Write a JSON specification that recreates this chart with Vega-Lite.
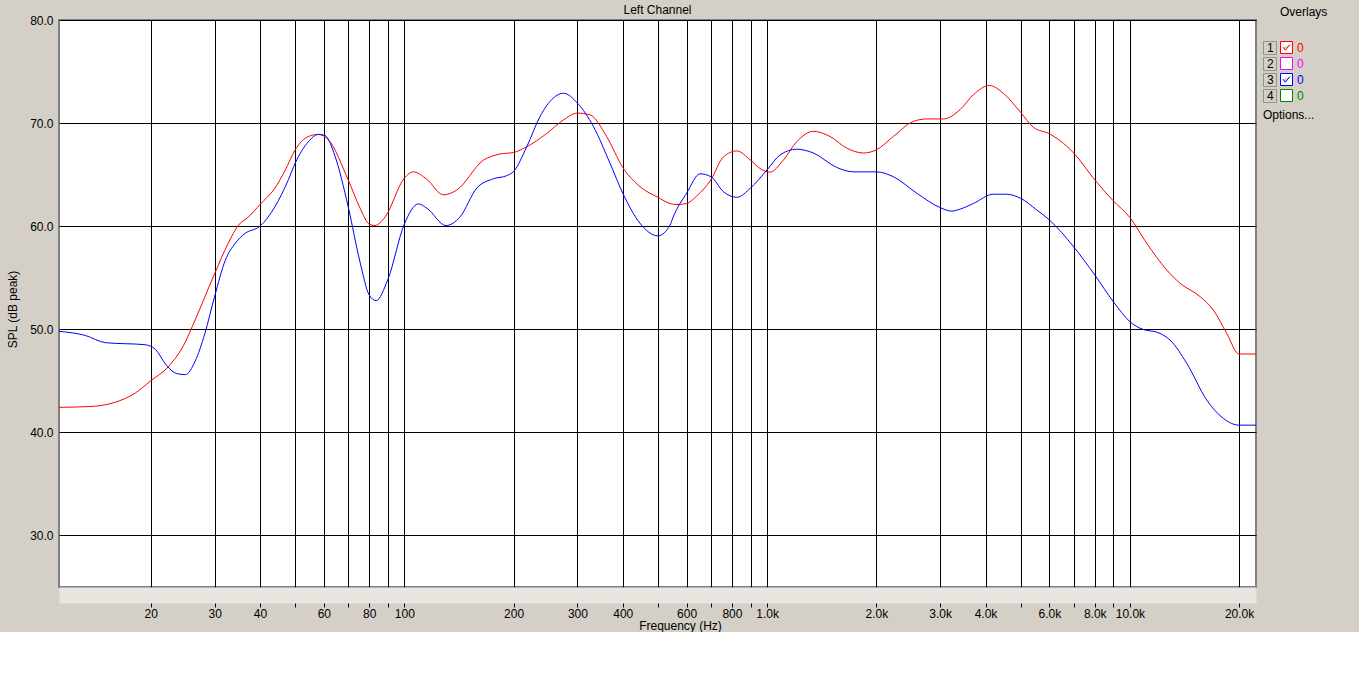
{
  "$schema": "https://vega.github.io/schema/vega-lite/v6.json",
  "width": 1197,
  "height": 567,
  "autosize": {"type": "none"},
  "padding": {"left": 59, "top": 20, "right": 103, "bottom": 45},
  "background": "#D4D0C8",
  "config": {
    "view": {"fill": "white", "stroke": "#808080", "strokeWidth": 2},
    "font": "Liberation Sans",
    "axis": {
      "labelFont": "Liberation Sans", "labelFontSize": 12, "labelColor": "black",
      "titleFont": "Liberation Sans", "titleFontSize": 12, "titleFontWeight": "normal", "titleColor": "black",
      "gridColor": "black", "gridOpacity": 1, "gridWidth": 1, "tickColor": "black"
    },
    "legend": {
      "labelFont": "Liberation Sans", "labelFontSize": 12,
      "titleFont": "Liberation Sans", "titleFontSize": 12, "titleFontWeight": "normal", "titleColor": "black"
    }
  },
  "title": {
    "text": "Left Channel", "anchor": "middle", "fontSize": 12, "fontWeight": "normal",
    "font": "Liberation Sans", "color": "black", "offset": -10
  },
  "data": {
    "values": [
      {"set": "1", "f": 11.17, "db": 42.43}, {"set": "1", "f": 13.5, "db": 42.5}, {"set": "1", "f": 15.9, "db": 42.9},
      {"set": "1", "f": 18.1, "db": 43.8}, {"set": "1", "f": 20, "db": 45.0}, {"set": "1", "f": 22.4, "db": 46.4},
      {"set": "1", "f": 24.6, "db": 48.4}, {"set": "1", "f": 26.5, "db": 50.9}, {"set": "1", "f": 30, "db": 55.4},
      {"set": "1", "f": 32.7, "db": 58.35}, {"set": "1", "f": 34.9, "db": 60.1}, {"set": "1", "f": 37.2, "db": 60.9},
      {"set": "1", "f": 40, "db": 62.1}, {"set": "1", "f": 44, "db": 63.7}, {"set": "1", "f": 46.9, "db": 65.4},
      {"set": "1", "f": 50, "db": 67.4}, {"set": "1", "f": 54.4, "db": 68.7}, {"set": "1", "f": 57.9, "db": 68.9},
      {"set": "1", "f": 61.7, "db": 68.4}, {"set": "1", "f": 70, "db": 64.5}, {"set": "1", "f": 75.5, "db": 61.75},
      {"set": "1", "f": 80, "db": 60.2}, {"set": "1", "f": 83, "db": 60.06}, {"set": "1", "f": 88.5, "db": 60.9},
      {"set": "1", "f": 100, "db": 64.66}, {"set": "1", "f": 105.9, "db": 65.27}, {"set": "1", "f": 115.3, "db": 64.56},
      {"set": "1", "f": 128.1, "db": 63.04}, {"set": "1", "f": 139.4, "db": 63.5}, {"set": "1", "f": 165.1, "db": 66.4},
      {"set": "1", "f": 183.5, "db": 67.0}, {"set": "1", "f": 200, "db": 67.15}, {"set": "1", "f": 217.5, "db": 67.7},
      {"set": "1", "f": 247, "db": 69.0}, {"set": "1", "f": 274.4, "db": 70.3}, {"set": "1", "f": 300, "db": 70.97},
      {"set": "1", "f": 325, "db": 70.8}, {"set": "1", "f": 361, "db": 68.7}, {"set": "1", "f": 400, "db": 65.7},
      {"set": "1", "f": 446, "db": 63.84}, {"set": "1", "f": 500, "db": 62.8}, {"set": "1", "f": 540, "db": 62.2},
      {"set": "1", "f": 563, "db": 62.1}, {"set": "1", "f": 600, "db": 62.2}, {"set": "1", "f": 640, "db": 62.94},
      {"set": "1", "f": 700, "db": 64.5}, {"set": "1", "f": 757, "db": 66.7}, {"set": "1", "f": 825, "db": 67.3},
      {"set": "1", "f": 900, "db": 66.4}, {"set": "1", "f": 956, "db": 65.6}, {"set": "1", "f": 1019, "db": 65.24},
      {"set": "1", "f": 1108, "db": 66.4}, {"set": "1", "f": 1207, "db": 68.2}, {"set": "1", "f": 1341, "db": 69.2},
      {"set": "1", "f": 1491, "db": 68.7}, {"set": "1", "f": 1658, "db": 67.57}, {"set": "1", "f": 1842, "db": 67.1},
      {"set": "1", "f": 2000, "db": 67.4}, {"set": "1", "f": 2227, "db": 68.7}, {"set": "1", "f": 2529, "db": 70.16},
      {"set": "1", "f": 2754, "db": 70.4}, {"set": "1", "f": 3060, "db": 70.4}, {"set": "1", "f": 3402, "db": 71.3},
      {"set": "1", "f": 3702, "db": 72.75}, {"set": "1", "f": 4099, "db": 73.65}, {"set": "1", "f": 4477, "db": 72.9},
      {"set": "1", "f": 5000, "db": 71.03}, {"set": "1", "f": 5416, "db": 69.6}, {"set": "1", "f": 6000, "db": 68.96},
      {"set": "1", "f": 6417, "db": 68.3}, {"set": "1", "f": 7000, "db": 67.1}, {"set": "1", "f": 8000, "db": 64.5},
      {"set": "1", "f": 9000, "db": 62.46}, {"set": "1", "f": 10000, "db": 60.84}, {"set": "1", "f": 11124, "db": 58.35},
      {"set": "1", "f": 12628, "db": 55.76}, {"set": "1", "f": 13744, "db": 54.47}, {"set": "1", "f": 15606, "db": 53.17},
      {"set": "1", "f": 16982, "db": 51.87}, {"set": "1", "f": 18490, "db": 49.6}, {"set": "1", "f": 20000, "db": 47.6},
      {"set": "1", "f": 22265, "db": 47.6},
      {"set": "3", "f": 11.17, "db": 49.8}, {"set": "3", "f": 13.2, "db": 49.4}, {"set": "3", "f": 15.0, "db": 48.7},
      {"set": "3", "f": 19.3, "db": 48.5}, {"set": "3", "f": 20.6, "db": 48.05}, {"set": "3", "f": 22.1, "db": 46.5},
      {"set": "3", "f": 23.6, "db": 45.7}, {"set": "3", "f": 24.9, "db": 45.6}, {"set": "3", "f": 26.5, "db": 46.9},
      {"set": "3", "f": 28.2, "db": 49.6}, {"set": "3", "f": 30, "db": 53.2}, {"set": "3", "f": 32.1, "db": 56.7},
      {"set": "3", "f": 34.2, "db": 58.35}, {"set": "3", "f": 36.4, "db": 59.3}, {"set": "3", "f": 40, "db": 60.0},
      {"set": "3", "f": 44, "db": 61.9}, {"set": "3", "f": 47.9, "db": 64.5}, {"set": "3", "f": 50, "db": 66.1},
      {"set": "3", "f": 54.4, "db": 68.2}, {"set": "3", "f": 57.9, "db": 68.9}, {"set": "3", "f": 60.4, "db": 68.8},
      {"set": "3", "f": 64.4, "db": 66.8}, {"set": "3", "f": 70, "db": 61.9}, {"set": "3", "f": 75.5, "db": 56.5},
      {"set": "3", "f": 80, "db": 53.33}, {"set": "3", "f": 83.6, "db": 52.78}, {"set": "3", "f": 90, "db": 54.8},
      {"set": "3", "f": 100, "db": 60.2}, {"set": "3", "f": 109.3, "db": 62.16}, {"set": "3", "f": 115.3, "db": 61.75},
      {"set": "3", "f": 130.3, "db": 60.06}, {"set": "3", "f": 142.4, "db": 60.9}, {"set": "3", "f": 158.4, "db": 63.7},
      {"set": "3", "f": 176, "db": 64.6}, {"set": "3", "f": 191.5, "db": 64.9}, {"set": "3", "f": 200, "db": 65.3},
      {"set": "3", "f": 217.5, "db": 67.7}, {"set": "3", "f": 236.6, "db": 70.64}, {"set": "3", "f": 257.4, "db": 72.43},
      {"set": "3", "f": 274.4, "db": 72.9}, {"set": "3", "f": 300, "db": 71.94}, {"set": "3", "f": 332, "db": 69.67},
      {"set": "3", "f": 369, "db": 66.1}, {"set": "3", "f": 400, "db": 63.2}, {"set": "3", "f": 446, "db": 60.3},
      {"set": "3", "f": 500, "db": 59.06}, {"set": "3", "f": 540, "db": 60.1}, {"set": "3", "f": 551, "db": 60.9},
      {"set": "3", "f": 600, "db": 63.2}, {"set": "3", "f": 653, "db": 65.08}, {"set": "3", "f": 700, "db": 64.8},
      {"set": "3", "f": 757, "db": 63.36}, {"set": "3", "f": 825, "db": 62.8}, {"set": "3", "f": 900, "db": 63.7},
      {"set": "3", "f": 1000, "db": 65.47}, {"set": "3", "f": 1085, "db": 66.9}, {"set": "3", "f": 1207, "db": 67.47},
      {"set": "3", "f": 1341, "db": 67.1}, {"set": "3", "f": 1555, "db": 65.7}, {"set": "3", "f": 1729, "db": 65.27},
      {"set": "3", "f": 2000, "db": 65.27}, {"set": "3", "f": 2227, "db": 64.8}, {"set": "3", "f": 2585, "db": 63.2},
      {"set": "3", "f": 3000, "db": 61.8}, {"set": "3", "f": 3228, "db": 61.46}, {"set": "3", "f": 3402, "db": 61.65},
      {"set": "3", "f": 3702, "db": 62.2}, {"set": "3", "f": 4204, "db": 63.1}, {"set": "3", "f": 4575, "db": 63.1},
      {"set": "3", "f": 5000, "db": 62.7}, {"set": "3", "f": 5535, "db": 61.58}, {"set": "3", "f": 6000, "db": 60.6},
      {"set": "3", "f": 7000, "db": 58.0}, {"set": "3", "f": 8000, "db": 55.27}, {"set": "3", "f": 9000, "db": 52.68},
      {"set": "3", "f": 10000, "db": 50.74}, {"set": "3", "f": 10662, "db": 50.1}, {"set": "3", "f": 12106, "db": 49.6},
      {"set": "3", "f": 12899, "db": 48.96}, {"set": "3", "f": 14346, "db": 46.7}, {"set": "3", "f": 16283, "db": 43.14},
      {"set": "3", "f": 18088, "db": 41.36}, {"set": "3", "f": 20000, "db": 40.7}, {"set": "3", "f": 22265, "db": 40.7}
    ]
  },
  "encoding": {
    "y": {
      "field": "db", "type": "quantitative",
      "scale": {"domain": [25, 80], "nice": false, "zero": false},
      "axis": {
        "values": [30, 40, 50, 60, 70, 80], "format": ".1f", "title": "SPL (dB peak)",
        "grid": true, "ticks": false, "tickSize": 0, "domain": false, "labelPadding": 6,
        "titleX": -47, "titleY": 289, "titleAlign": "center", "titleBaseline": "middle", "titleAngle": -90
      }
    }
  },
  "layer": [
    {
      "mark": {"type": "line", "opacity": 0},
      "encoding": {
        "x": {
          "field": "f", "type": "quantitative",
          "scale": {"type": "log", "domain": [11.17, 22265], "nice": false},
          "axis": {
            "orient": "bottom", "grid": false, "ticks": false, "labels": false, "title": null,
            "domain": true, "domainColor": "#E8E6E1", "domainWidth": 16, "offset": 8
          }
        },
        "detail": {"field": "set"}
      }
    },
    {
      "mark": {"type": "line", "interpolate": "monotone", "strokeWidth": 1},
      "encoding": {
        "x": {
          "field": "f", "type": "quantitative",
          "scale": {"type": "log", "domain": [11.17, 22265], "nice": false},
          "axis": {
            "orient": "bottom",
            "values": [20, 30, 40, 50, 60, 70, 80, 90, 100, 200, 300, 400, 500, 600, 700, 800, 900, 1000, 2000, 3000, 4000, 5000, 6000, 7000, 8000, 9000, 10000, 20000],
            "labelExpr": "indexof([50, 70, 90, 500, 700, 900, 5000, 7000, 9000], datum.value) >= 0 ? '' : (datum.value >= 1000 ? format(datum.value / 1000, '.1f') + 'k' : format(datum.value, 'd'))",
            "grid": true, "ticks": true, "tickSize": 4, "domain": false, "offset": 16,
            "labelPadding": 1, "labelOverlap": false, "labelFlush": false,
            "title": "Frequency (Hz)", "titlePadding": 1, "titleX": 621
          }
        },
        "color": {
          "field": "set", "type": "nominal",
          "scale": {"domain": ["1", "2", "3", "4"], "range": ["#FF0000", "#FF00FF", "#0000FF", "#008000"]},
          "legend": {
            "title": "Overlays", "orient": "none", "legendX": 1221, "legendY": -13,
            "titlePadding": 22, "padding": 0,
            "symbolType": "square", "symbolSize": 144, "rowPadding": -1,
            "symbolStrokeColor": "#404040", "symbolFillColor": "white", "symbolStrokeWidth": 1,
            "labelExpr": "'0'", "labelOffset": 4,
            "encode": {
              "symbols": {
                "update": {
                  "fill": {"value": "white"}, "stroke": {"value": "#404040"}, "strokeWidth": {"value": 1},
                  "opacity": {"value": 1},
                  "shape": {"signal": "datum.value == '1' || datum.value == '3' ? 'M-1,-1H1V1H-1Z M-0.6,-0.05L-0.2,0.45L0.6,-0.5' : 'square'"}
                }
              },
              "labels": {"update": {"fill": {"scale": "color", "field": "value"}}}
            }
          }
        },
        "strokeDash": {
          "field": "set", "type": "nominal",
          "scale": {"domain": [1, 2, 3, 4], "range": [[1, 0], [1, 0], [1, 0], [1, 0]]},
          "legend": {
            "title": "Options...", "titleOrient": "bottom", "titlePadding": 5, "titleAnchor": "start",
            "orient": "none", "legendX": 1204, "legendY": 21, "padding": 0,
            "symbolType": "square", "symbolSize": 169, "rowPadding": -3,
            "symbolStrokeColor": "#808080", "symbolFillColor": "#D4D0C8",
            "labelOffset": -10, "labelColor": "black",
            "encode": {
              "symbols": {
                "update": {
                  "fill": {"value": "#D4D0C8"}, "stroke": {"value": "#808080"}, "strokeWidth": {"value": 1},
                  "opacity": {"value": 1}, "strokeDash": {"value": []}
                }
              },
              "labels": {"update": {"opacity": {"value": 1}, "fill": {"value": "black"}}}
            }
          }
        }
      }
    }
  ],
  "resolve": {"axis": {"x": "independent"}}
}
